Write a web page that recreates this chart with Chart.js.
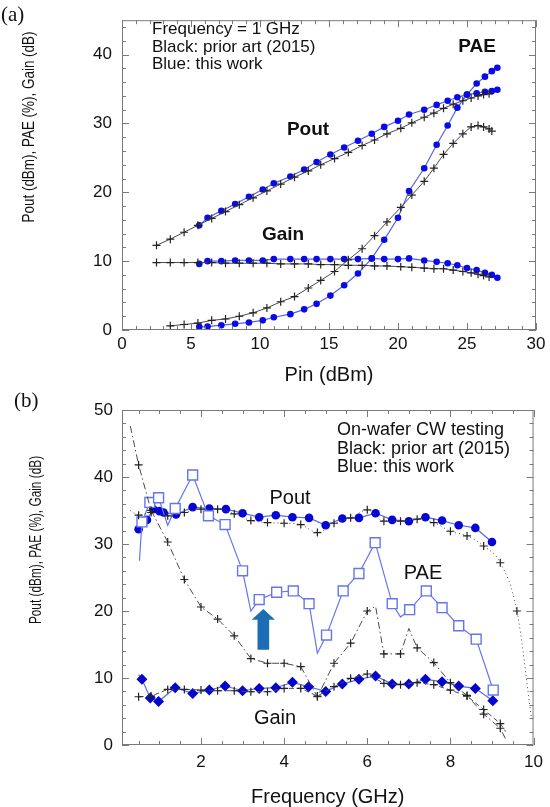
<!DOCTYPE html>
<html>
<head>
<meta charset="utf-8">
<script src="https://cdn.jsdelivr.net/npm/chart.js@4.4.0/dist/chart.umd.min.js"></script>
<style>
  body { margin: 0; background: #fff; width: 550px; height: 807px; position: relative; overflow: hidden; }
  .panel { position: absolute; left: 0; width: 550px; }
  #wrapA { top: 0; height: 385px; }
  #wrapB { top: 385px; height: 422px; }
</style>
</head>
<body>
<div class="panel" id="wrapA"><canvas id="chartA" width="550" height="385"></canvas></div>
<div class="panel" id="wrapB"><canvas id="chartB" width="550" height="422"></canvas></div>
<script>
// ---- (a) Pin sweep at 1 GHz ----
const pinBlue = [5.6, 6.2, 7.2, 8.2, 9.2, 10.2, 11.0, 12.2, 13.2, 14.1, 15.1, 16.1, 17.1, 18.1, 19.0, 20.0, 20.8, 21.9, 22.8, 23.6, 24.3, 25.0, 25.7, 26.3, 26.8, 27.2];
const poutBlueA = [15.2, 16.3, 17.3, 18.3, 19.35, 20.4, 21.3, 22.3, 23.3, 24.4, 25.5, 26.5, 27.5, 28.5, 29.5, 30.4, 31.3, 32.0, 32.7, 33.3, 33.8, 34.2, 34.4, 34.6, 34.7, 34.9];
const gainBlueA = [9.6, 10.0, 10.0, 10.1, 10.1, 10.1, 10.3, 10.3, 10.3, 10.3, 10.3, 10.3, 10.3, 10.4, 10.3, 10.3, 10.4, 10.1, 9.9, 9.7, 9.4, 9.0, 8.7, 8.3, 8.0, 7.6];
const paeBlueA = [0.45, 0.5, 0.7, 0.9, 1.1, 1.4, 1.85, 2.3, 3.0, 3.8, 5.0, 6.5, 8.2, 10.4, 13.1, 16.3, 20.2, 23.5, 26.9, 29.7, 32.3, 34.2, 35.8, 36.8, 37.6, 38.1];

const pinBlack = [2.5, 3.5, 4.5, 5.5, 6.5, 7.5, 8.5, 9.5, 10.5, 11.5, 12.5, 13.5, 14.4, 15.4, 16.4, 17.4, 18.3, 19.2, 20.2, 21.0, 21.9, 22.6, 23.3, 24.0, 24.7, 25.3, 25.8, 26.2, 26.6];
const poutBlackA = [12.3, 13.2, 14.2, 15.2, 16.2, 17.2, 18.2, 19.2, 20.2, 21.2, 22.2, 23.1, 24.0, 24.9, 25.8, 26.8, 27.6, 28.5, 29.3, 30.1, 30.9, 31.5, 32.2, 32.8, 33.3, 33.7, 34.0, 34.2, 34.3];
const gainBlackA = [9.8, 9.8, 9.8, 9.8, 9.8, 9.7, 9.7, 9.7, 9.7, 9.6, 9.6, 9.6, 9.5, 9.5, 9.4, 9.4, 9.3, 9.3, 9.2, 9.1, 9.0, 8.9, 8.9, 8.7, 8.5, 8.3, 8.1, 7.9, 7.7];
const pinBlackPae = [3.5, 4.5, 5.5, 6.5, 7.5, 8.5, 9.5, 10.5, 11.5, 12.5, 13.5, 14.4, 15.4, 16.4, 17.4, 18.3, 19.2, 20.2, 21.0, 21.9, 22.6, 23.3, 24.0, 24.7, 25.3, 25.8, 26.2, 26.6, 26.8];
const paeBlackA = [0.6, 0.8, 1.0, 1.4, 1.6, 2.0, 2.5, 3.2, 4.1, 4.85, 6.1, 7.2, 8.5, 10.2, 11.8, 13.7, 15.7, 17.8, 19.6, 21.6, 23.5, 25.5, 27.1, 28.5, 29.5, 29.7, 29.5, 29.2, 28.9];

const pinTicks = [0, 5, 10, 15, 20, 25, 30];
const yTicksA = [0, 10, 20, 30, 40];

// ---- (b) frequency sweep ----
const freqBluePout = [0.5, 0.7, 0.85, 1.0, 1.1, 1.4, 1.8, 2.2, 2.6, 3.0, 3.4, 3.8, 4.2, 4.6, 5.0, 5.4, 5.8, 6.2, 6.6, 7.0, 7.4, 7.8, 8.2, 8.6, 9.0];
const poutBlueB = [32.2, 33.6, 35.2, 34.9, 34.7, 34.4, 35.5, 35.3, 35.2, 34.6, 34.0, 34.3, 34.0, 33.9, 32.8, 33.8, 33.9, 34.6, 33.6, 33.4, 34.0, 33.5, 32.8, 32.4, 30.3];
const freqBluePae = [0.52, 0.58, 0.77, 0.98, 1.2, 1.38, 1.8, 2.18, 2.58, 3.0, 3.2, 3.4, 3.82, 4.22, 4.6, 4.8, 5.02, 5.42, 5.8, 6.19, 6.6, 6.8, 7.02, 7.42, 7.8, 8.2, 8.62, 9.03];
const paeBlueB = [27.5, 33.3, 36.2, 36.9, 32.8, 35.3, 40.3, 34.2, 32.9, 26.0, 20.0, 21.7, 22.8, 23.0, 21.1, 13.7, 16.4, 23.0, 25.6, 30.2, 21.1, 19.1, 20.2, 23.0, 20.5, 17.8, 15.8, 8.2];
const freqBlueGain = [0.5, 0.58, 0.78, 0.98, 1.38, 1.8, 2.2, 2.58, 3.0, 3.4, 3.8, 4.2, 4.59, 5.0, 5.4, 5.8, 6.2, 6.6, 7.0, 7.4, 7.8, 8.2, 8.6, 9.02];
const gainBlueB = [10.5, 9.8, 7.0, 6.5, 8.55, 7.7, 8.2, 8.8, 8.1, 8.45, 8.55, 9.35, 8.7, 8.0, 9.1, 9.8, 10.3, 9.1, 9.1, 9.8, 9.45, 8.8, 8.45, 6.6];

const freqBlackPout = [0.3, 0.5, 0.8, 1.2, 1.6, 2.0, 2.4, 2.8, 3.2, 3.6, 4.0, 4.4, 4.8, 5.2, 5.6, 6.0, 6.4, 6.8, 7.2, 7.6, 8.0, 8.4, 8.8, 9.2, 9.6, 9.95];
const poutBlackB = [35.0, 34.3, 34.7, 34.2, 34.7, 35.2, 35.2, 34.5, 33.5, 33.2, 33.1, 32.9, 31.7, 33.1, 33.9, 35.1, 33.4, 33.4, 33.7, 33.2, 31.9, 31.2, 29.7, 27.2, 20.0, 4.0];
const freqBlackPae = [0.3, 0.5, 0.8, 1.2, 1.6, 2.0, 2.4, 2.8, 3.2, 3.6, 4.0, 4.4, 4.8, 5.2, 5.6, 6.0, 6.2, 6.4, 6.8, 7.0, 7.2, 7.6, 8.0, 8.4, 8.8, 9.2, 9.35];
const paeBlackB = [47.6, 41.8, 35.0, 30.3, 24.7, 20.6, 18.8, 16.3, 12.9, 12.2, 12.2, 11.7, 7.2, 12.2, 15.2, 20.0, 20.7, 13.6, 13.6, 17.4, 14.5, 12.3, 9.3, 7.4, 4.6, 2.5, 0.6];
const freqBlackGain = [0.5, 0.8, 1.2, 1.6, 2.0, 2.4, 2.8, 3.2, 3.6, 4.0, 4.4, 4.8, 5.2, 5.6, 6.0, 6.4, 6.8, 7.2, 7.6, 8.0, 8.4, 8.8, 9.2, 9.33];
const gainBlackB = [7.2, 7.3, 8.3, 8.3, 8.2, 8.1, 8.1, 7.95, 7.95, 8.45, 8.45, 7.3, 8.7, 9.95, 10.6, 9.2, 9.0, 9.3, 9.0, 8.2, 7.3, 5.3, 3.2, 2.0];

const freqTicks = [2, 4, 6, 8, 10];
const yTicksB = [0, 10, 20, 30, 40, 50];

// --- helpers ---
const FONT = '"Liberation Sans", Arial, sans-serif';
Chart.defaults.font.family = FONT;
Chart.defaults.color = '#111';

const toXY = (xs, ys) => xs.map((x, i) => ({ x: x, y: ys[i] }));
// radius per point, 0 where the reference draws a bare vertex
const radii = (n, r, bare) => Array.from({ length: n }, (_, i) => bare.includes(i) ? 0 : r);

function blackSet(xs, ys, dash, r) {
    return {
        data: toXY(xs, ys), showLine: true,
        borderColor: '#4a4a4a', borderWidth: 1, borderDash: dash,
        pointStyle: 'cross', pointRadius: r, pointBorderColor: '#222',
        pointBorderWidth: 1.2, pointBackgroundColor: '#222'
    };
}

function blueSet(xs, ys, style, r, fill, line) {
    return {
        data: toXY(xs, ys), showLine: true,
        borderColor: line, borderWidth: 1.2,
        pointStyle: style, pointRadius: r,
        pointBackgroundColor: fill, pointBorderColor: fill === '#fff' ? line : fill,
        pointBorderWidth: fill === '#fff' ? 1.4 : 0
    };
}

// axes box with inward minor/major ticks on all four sides
const framePlugin = {
    id: 'frame',
    afterDatasetsDraw(chart, args, o) {
        const { ctx, chartArea: a, scales: { x, y } } = chart;
        ctx.save();
        ctx.strokeStyle = '#7a7a7a';
        ctx.lineWidth = 1;
        ctx.strokeRect(a.left + 0.5, a.top + 0.5, a.right - a.left - 1, a.bottom - a.top - 1);
        ctx.beginPath();
        const major = (v, m) => Math.abs(v / m - Math.round(v / m)) < 1e-6;
        for (let i = Math.ceil(x.min / o.xMinor - 1e-9); i * o.xMinor <= x.max + 1e-9; i++) {
            const v = i * o.xMinor;
            const p = Math.round(x.getPixelForValue(v)) + 0.5;
            const len = major(v, o.xMajor) ? 7 : 4;
            ctx.moveTo(p, a.bottom); ctx.lineTo(p, a.bottom - len);
            ctx.moveTo(p, a.top); ctx.lineTo(p, a.top + len);
        }
        for (let i = Math.ceil(y.min / o.yMinor - 1e-9); i * o.yMinor <= y.max + 1e-9; i++) {
            const v = i * o.yMinor;
            const p = Math.round(y.getPixelForValue(v)) + 0.5;
            const len = major(v, o.yMajor) ? 7 : 4;
            ctx.moveTo(a.left, p); ctx.lineTo(a.left + len, p);
            ctx.moveTo(a.right, p); ctx.lineTo(a.right - len, p);
        }
        ctx.stroke();
        ctx.restore();
    }
};

// free text: labels, notes, rotated y title, panel letter
const textPlugin = {
    id: 'texts',
    afterDraw(chart, args, o) {
        const ctx = chart.ctx;
        ctx.save();
        ctx.fillStyle = '#111';
        ctx.textBaseline = 'middle';
        o.items.forEach(t => {
            ctx.font = t.font;
            ctx.textAlign = t.align || 'left';
            if (t.rotate) {
                ctx.save();
                ctx.translate(t.x, t.y);
                ctx.rotate(-Math.PI / 2);
                ctx.scale(t.squeeze || 1, 1);   // the source figure is squashed vertically
                ctx.fillText(t.text, 0, 0);
                ctx.restore();
            } else {
                ctx.fillText(t.text, t.x, t.y);
            }
        });
        ctx.restore();
    }
};

// the thick blue arrow in panel (b)
const arrowTip = { x: 3.5, y: 20.3 };
const arrowPlugin = {
    id: 'arrow',
    afterDatasetsDraw(chart) {
        const { ctx, scales: { x, y } } = chart;
        const cx = x.getPixelForValue(arrowTip.x);
        const tip = y.getPixelForValue(arrowTip.y);
        const base = y.getPixelForValue(18.7);
        const bottom = y.getPixelForValue(14.2);
        const hw = x.getPixelForValue(arrowTip.x + 0.28) - cx;
        const bw = x.getPixelForValue(arrowTip.x + 0.14) - cx;
        ctx.save();
        ctx.fillStyle = '#1c6db4';
        ctx.beginPath();
        ctx.moveTo(cx, tip);
        ctx.lineTo(cx + hw, base);
        ctx.lineTo(cx + bw, base);
        ctx.lineTo(cx + bw, bottom);
        ctx.lineTo(cx - bw, bottom);
        ctx.lineTo(cx - bw, base);
        ctx.lineTo(cx - hw, base);
        ctx.closePath();
        ctx.fill();
        ctx.restore();
    }
};

function axisX(min, max, majors, title, h, pad) {
    return {
        type: 'linear', min: min, max: max,
        afterBuildTicks: s => { s.ticks = majors.map(v => ({ value: v })); },
        afterFit: s => { s.height = h; },
        grid: { display: false, drawTicks: false }, border: { display: false },
        ticks: { padding: pad, font: { size: 17 }, color: '#111' },
        title: { display: true, text: title, font: { size: 20, lineHeight: 1 }, padding: 0, color: '#111' }
    };
}

function axisY(min, max, majors, pad) {
    return {
        type: 'linear', min: min, max: max,
        afterBuildTicks: s => { s.ticks = majors.map(v => ({ value: v })); },
        afterFit: s => { s.width = 122; },
        grid: { display: false, drawTicks: false }, border: { display: false },
        ticks: { padding: pad, font: { size: 17 }, color: '#111' }
    };
}

const bold19 = 'bold 19px ' + FONT;
const yTitle = 'Pout (dBm), PAE (%), Gain (dB)';

// --- CHART (a) ---
new Chart(document.getElementById('chartA'), {
    type: 'scatter',
    data: {
        datasets: [
            blackSet(pinBlack, poutBlackA, [], 4),
            blackSet(pinBlack, gainBlackA, [], 4),
            blackSet(pinBlackPae, paeBlackA, [], 4),
            blueSet(pinBlue, poutBlueA, 'circle', 3.3, '#0a0ae8', '#5563e8'),
            blueSet(pinBlue, gainBlueA, 'circle', 3.3, '#0a0ae8', '#5563e8'),
            blueSet(pinBlue, paeBlueA, 'circle', 3.3, '#0a0ae8', '#5563e8')
        ]
    },
    options: {
        responsive: false, animation: false,
        layout: { padding: { top: 5, right: 14, left: 0, bottom: 0 } },
        scales: {
            x: axisX(0, 30, pinTicks, 'Pin (dBm)', 55, 4),
            y: axisY(0, 45, yTicksA, 10)
        },
        plugins: {
            legend: { display: false }, tooltip: { enabled: false },
            frame: { xMinor: 1, xMajor: 5, yMinor: 2, yMajor: 10 },
            texts: {
                items: [
                    { text: '(a)', x: 1, y: 15, font: '21px "Liberation Serif", serif' },
                    { text: yTitle, x: 30, y: 127, font: '16px ' + FONT, align: 'center', rotate: true, squeeze: 0.84 },
                    { text: 'Frequency = 1 GHz', x: 152, y: 29, font: '17px ' + FONT },
                    { text: 'Black: prior art (2015)', x: 152, y: 47, font: '17px ' + FONT },
                    { text: 'Blue: this work', x: 152, y: 64, font: '17px ' + FONT },
                    { text: 'PAE', x: 477, y: 47, font: bold19, align: 'center' },
                    { text: 'Pout', x: 308, y: 130, font: bold19, align: 'center' },
                    { text: 'Gain', x: 283, y: 235, font: bold19, align: 'center' }
                ]
            }
        }
    },
    plugins: [framePlugin, textPlugin]
});

// --- CHART (b) ---
const poutBlackSet = blackSet(freqBlackPout, poutBlackB, [1, 3], radii(freqBlackPout.length, 4, [0, freqBlackPout.length - 1]));
poutBlackSet.cubicInterpolationMode = 'monotone';

const paeBlueSet = blueSet(freqBluePae, paeBlueB, 'rect', 7, '#fff', '#6475ee');
paeBlueSet.pointRadius = radii(freqBluePae.length, 7, [0, 4, 10, 15, 21]);

const gainBlueSet = blueSet(freqBlueGain, gainBlueB, 'rectRot', 5.5, '#0505cc', '#5a6be8');
gainBlueSet.pointRadius = radii(freqBlueGain.length, 5.5, [0]);

new Chart(document.getElementById('chartB'), {
    type: 'scatter',
    data: {
        datasets: [
            poutBlackSet,
            blackSet(freqBlackPae, paeBlackB, [7, 3, 1.5, 3], radii(freqBlackPae.length, 4, [0, 16, 19, 26])),
            blackSet(freqBlackGain, gainBlackB, [5, 3], radii(freqBlackGain.length, 4, [23])),
            paeBlueSet,
            blueSet(freqBluePout, poutBlueB, 'circle', 4.3, '#0505d6', '#5a6be8'),
            gainBlueSet
        ]
    },
    options: {
        responsive: false, animation: false,
        layout: { padding: { top: 25, right: 14, left: 0, bottom: 0 } },
        scales: {
            x: axisX(0.1, 10, freqTicks, 'Frequency (GHz)', 62, 7),
            y: axisY(0, 50, yTicksB, 9)
        },
        plugins: {
            legend: { display: false }, tooltip: { enabled: false },
            frame: { xMinor: 0.5, xMajor: 2, yMinor: 2, yMajor: 10 },
            texts: {
                items: [
                    { text: '(b)', x: 14, y: 16, font: '21px "Liberation Serif", serif' },
                    { text: yTitle, x: 37, y: 155, font: '16px ' + FONT, align: 'center', rotate: true, squeeze: 0.74 },
                    { text: 'On-wafer CW testing', x: 337, y: 45, font: '18px ' + FONT },
                    { text: 'Black: prior art (2015)', x: 337, y: 64, font: '18px ' + FONT },
                    { text: 'Blue: this work', x: 337, y: 82, font: '18px ' + FONT },
                    { text: 'Pout', x: 290, y: 113, font: '20px ' + FONT, align: 'center' },
                    { text: 'PAE', x: 423, y: 188, font: '20px ' + FONT, align: 'center' },
                    { text: 'Gain', x: 275, y: 333, font: '20px ' + FONT, align: 'center' }
                ]
            }
        }
    },
    plugins: [framePlugin, textPlugin, arrowPlugin]
});
</script>
</body>
</html>
